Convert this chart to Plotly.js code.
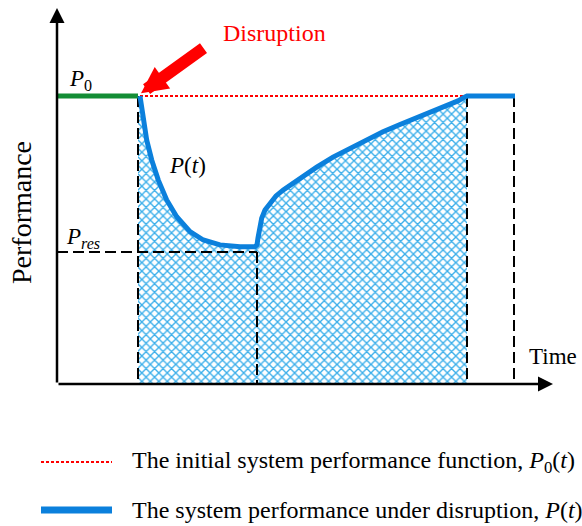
<!DOCTYPE html>
<html>
<head>
<meta charset="utf-8">
<script src="https://cdn.plot.ly/plotly-3.0.1.min.js"></script>
<style>html,body{margin:0;padding:0;background:#fff;}</style>
</head>
<body>
<div id="chart" style="width:582px;height:526px;"></div>
<script>
// ---- data (time units on x, normalised performance on y) ----
const timeMarks = [16.2, 40, 82, 91.4];          // T0, T1, Tequ, end of window
const timeMarkTops = [1.0, 0.458, 1.0, 1.0];       // where each dashed drop line starts
const tickLabels = ['<i>T</i><sub>0</sub>', '<i>T</i><sub>1</sub>', '<i>T</i><sub><i>equ</i></sub>'];
const P0 = 1.0;
const Pres = 0.458;
const initialX = [0, 16.2];
const initialY = [1.0, 1.0];
const refX = [16.6, 82];
const refY = [1.0, 1.0];
const curveX = [16.6, 16.9, 17.26, 17.94, 18.94, 20.26, 21.94, 23.94, 26.6, 29.26, 32.6, 36.6, 39.6, 40.0, 40.2, 40.5, 40.94, 41.6, 42.6, 43.8, 45.26, 48.6, 51.94, 55.2, 58.6, 61.8, 65.2, 68.6, 71.94, 75.2, 78.6, 80.2, 81.6, 82, 91.6];
const curveY = [1.0, 0.958, 0.917, 0.847, 0.778, 0.708, 0.639, 0.581, 0.529, 0.500, 0.483, 0.477, 0.477, 0.483, 0.507, 0.542, 0.576, 0.604, 0.627, 0.653, 0.674, 0.715, 0.753, 0.788, 0.819, 0.849, 0.876, 0.901, 0.924, 0.948, 0.969, 0.983, 0.997, 1.0, 1.0];
const legendNames = ['The initial system performance function, <i>P</i><sub>0</sub>(<i>t</i>)',
                     'The system performance under disruption, <i>P</i>(<i>t</i>)'];

const BLUE = '#0b80dc', RED = '#ff0000', GREEN = '#138d35', HATCH = '#3aaeea';
const FONT = '"Liberation Serif", "Times New Roman", Times, serif';

// fill area: T0 .. Tequ under the curve
const fillX = [timeMarks[0]], fillY = [P0];
for (let i = 0; i < curveX.length; i++) {
  if (curveX[i] <= timeMarks[2]) { fillX.push(curveX[i]); fillY.push(curveY[i]); }
}

const traces = [];
traces.push({x: fillX, y: fillY, mode: 'lines', line: {width: 0},
  fill: 'tozeroy', fillcolor: 'rgba(255,255,255,0)',
  fillpattern: {shape: 'x', fgcolor: HATCH, bgcolor: 'rgba(255,255,255,0)', size: 6, solidity: 0.4},
  hoverinfo: 'skip', showlegend: false});
// dashed drop lines
for (let i = 0; i < timeMarks.length; i++) {
  traces.push({x: [timeMarks[i], timeMarks[i]], y: [timeMarkTops[i], 0], mode: 'lines',
    line: {color: '#000', width: 2, dash: '11px,5px'}, showlegend: false, hoverinfo: 'skip'});
}
// Pres dashed line
traces.push({x: [0, timeMarks[1]], y: [Pres, Pres], mode: 'lines',
  line: {color: '#000', width: 2, dash: '11px,5px'}, showlegend: false, hoverinfo: 'skip'});
// initial performance (green) before disruption
traces.push({x: initialX, y: initialY, mode: 'lines', line: {color: GREEN, width: 5}, showlegend: false});
// reference P0(t) red dotted
traces.push({x: refX, y: refY, mode: 'lines', line: {color: RED, width: 2, dash: '3px,2px'}, showlegend: false});
// P(t)
traces.push({x: curveX, y: curveY, mode: 'lines', line: {color: BLUE, width: 5}, showlegend: false});

const XMAX = 99.2, YMAX = 1.3056;
const ann = [];
// axes arrows
ann.push({x: 0, y: YMAX, ax: 0, ay: 0, axref: 'x', ayref: 'y', xref: 'x', yref: 'y', text: '',
  showarrow: true, arrowhead: 2, arrowsize: 1.2, arrowwidth: 2.5, arrowcolor: '#000', standoff: 0});
ann.push({x: XMAX, y: 0, ax: 0, ay: 0, axref: 'x', ayref: 'y', xref: 'x', yref: 'y', text: '',
  showarrow: true, arrowhead: 2, arrowsize: 1.2, arrowwidth: 2.5, arrowcolor: '#000', standoff: 0});
// red disruption arrow
ann.push({x: 16.8, y: 1.01, ax: 29.6, ay: 1.17, axref: 'x', ayref: 'y', xref: 'x', yref: 'y', text: '',
  showarrow: true, arrowhead: 2, arrowsize: 0.44, arrowwidth: 12, arrowcolor: RED, standoff: 0});
const txt = (x, y, text, opts) => Object.assign({x: x, y: y, xref: 'x', yref: 'y', text: text,
  showarrow: false, font: {family: FONT, size: 23, color: '#000'}}, opts || {});
ann.push(txt(43.4, 1.219, 'Disruption', {font: {family: FONT, size: 24, color: RED}}));
ann.push(txt(4.6, 1.056, '<i>P</i><sub>0</sub>'));
ann.push(txt(5.2, 0.507, '<i>P</i><sub><i>res</i></sub>'));
ann.push(txt(26, 0.76, '<i>P</i>(<i>t</i>)'));
ann.push(txt(16.8, -0.073, tickLabels[0]));
ann.push(txt(40.6, -0.073, tickLabels[1]));
ann.push(txt(78.2, -0.08, tickLabels[2], {xanchor: 'left'}));
ann.push(txt(XMAX, 0.094, 'Time'));
ann.push({x: (21 - 57) / 496, y: (384 - 213) / 376, xref: 'paper', yref: 'paper', xanchor: 'center', yanchor: 'middle',
  text: 'Performance', textangle: -90, showarrow: false, font: {family: FONT, size: 28, color: '#000'}});
// legend texts
ann.push({x: (130 - 57) / 496, y: (384 - 462) / 376, xref: 'paper', yref: 'paper', xanchor: 'left', yanchor: 'middle',
  text: legendNames[0], showarrow: false, font: {family: FONT, size: 24, color: '#000'}});
ann.push({x: (130 - 57) / 496, y: (384 - 510) / 376, xref: 'paper', yref: 'paper', xanchor: 'left', yanchor: 'middle',
  text: legendNames[1], showarrow: false, font: {family: FONT, size: 24, color: '#000'}});

const shapes = [
  {type: 'line', xref: 'paper', yref: 'paper', x0: (41 - 57) / 496, x1: (112 - 57) / 496,
   y0: (384 - 462) / 376, y1: (384 - 462) / 376, line: {color: RED, width: 2, dash: '3px,2px'}},
  {type: 'line', xref: 'paper', yref: 'paper', x0: (41 - 57) / 496, x1: (112 - 57) / 496,
   y0: (384 - 510) / 376, y1: (384 - 510) / 376, line: {color: BLUE, width: 7}}
];

const layout = {
  width: 582, height: 526,
  margin: {l: 57, r: 29, t: 8, b: 142, pad: 0},
  paper_bgcolor: '#fff', plot_bgcolor: '#fff',
  font: {family: FONT},
  xaxis: {range: [0, XMAX], visible: false, fixedrange: true},
  yaxis: {range: [0, YMAX], visible: false, fixedrange: true},
  showlegend: false,
  annotations: ann,
  shapes: shapes
};
Plotly.newPlot('chart', traces, layout, {displayModeBar: false, staticPlot: true});
</script>
</body>
</html>
